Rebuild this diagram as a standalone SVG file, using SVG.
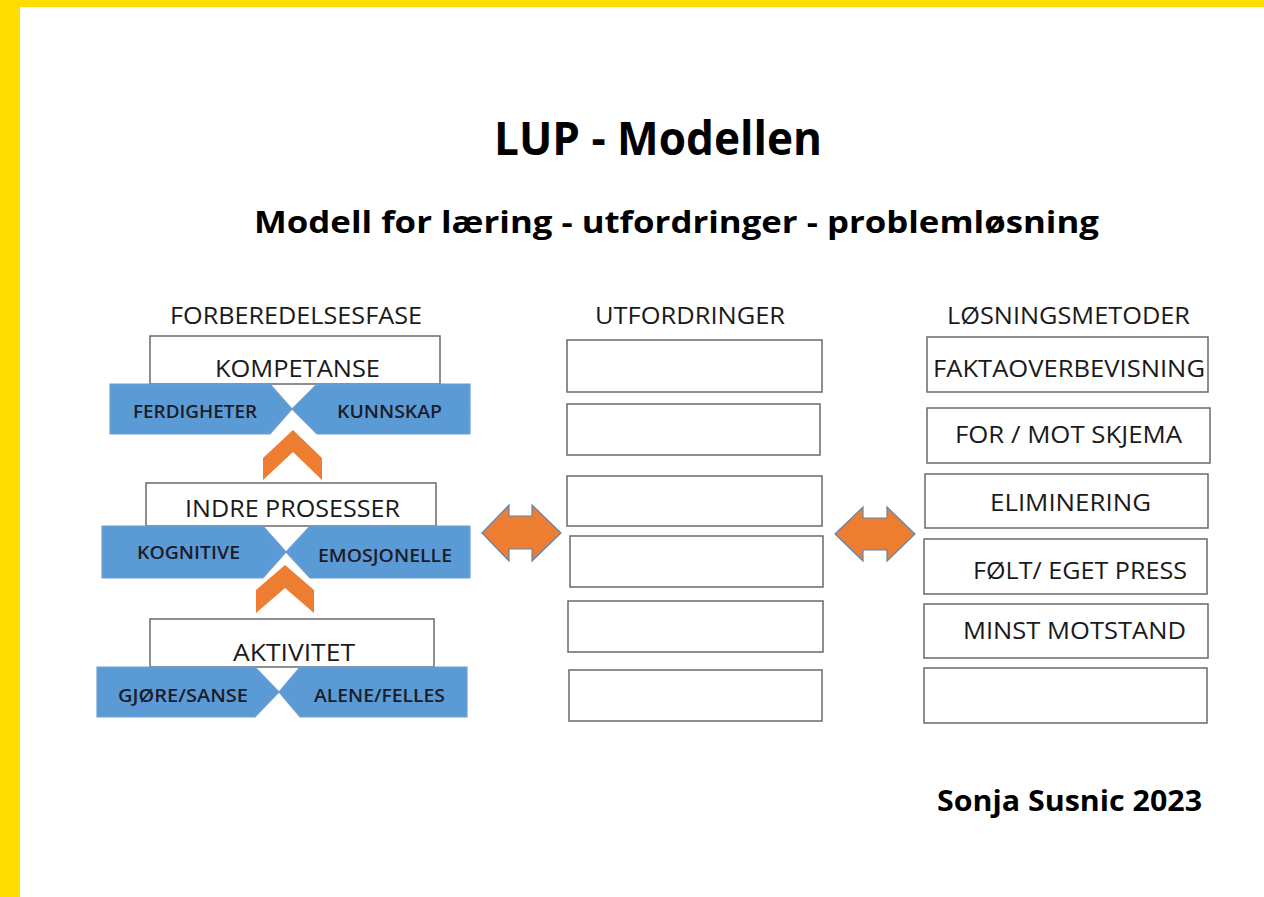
<svg xmlns="http://www.w3.org/2000/svg" width="1264" height="897" viewBox="0 0 1264 897">
  <style>
    .t { font-family: "Open Sans", "Liberation Sans", sans-serif; fill: #1a1a1a; }
    .title { font-weight: 700; font-size: 46px; fill: #000; }
    .sub { font-weight: 700; font-size: 31px; fill: #000; }
    .head { font-size: 23px; }
    .lbl { font-size: 23px; }
    .bar { font-size: 18px; font-weight: 600; fill: #1c1c2a; }
    .box { fill: #fff; stroke: #6a6a6a; stroke-width: 1.5; }
    .blue { fill: #5b9bd5; stroke: #6f9fcf; stroke-width: 1.2; }
    .orange { fill: #ed7d31; }
    .dbl { fill: #ed7d31; stroke: #5b86b8; stroke-width: 1.2; }
  </style>

  <!-- page frame -->
  <rect x="0" y="0" width="1264" height="897" fill="#fff"/>
  <rect x="0" y="0" width="1264" height="7" fill="#ffdd00"/>
  <rect x="0" y="0" width="20" height="897" fill="#ffdd00"/>

  <!-- headings -->
  <g id="headings">
    <text class="t title" x="494" y="155" textLength="328" lengthAdjust="spacingAndGlyphs">LUP - Modellen</text>
    <text class="t sub" x="254" y="233" textLength="845" lengthAdjust="spacingAndGlyphs">Modell for læring - utfordringer - problemløsning</text>
    <text class="t head" x="170" y="324" textLength="252" lengthAdjust="spacingAndGlyphs">FORBEREDELSESFASE</text>
    <text class="t head" x="595" y="324" textLength="190" lengthAdjust="spacingAndGlyphs">UTFORDRINGER</text>
    <text class="t head" x="947" y="324" textLength="243" lengthAdjust="spacingAndGlyphs">LØSNINGSMETODER</text>
  </g>

  <!-- preparation phase: three levels -->
  <g id="kompetanse">
    <rect class="box" x="150" y="336" width="290" height="48"/>
    <text class="t lbl" x="215" y="377" textLength="165" lengthAdjust="spacingAndGlyphs">KOMPETANSE</text>
    <polygon class="blue" points="110,384 270,384 292,409 270,434 110,434"/>
    <polygon class="blue" points="317,384 470,384 470,434 317,434 292,409"/>
    <text class="t bar" x="133" y="418" textLength="124" lengthAdjust="spacingAndGlyphs">FERDIGHETER</text>
    <text class="t bar" x="337" y="418" textLength="105" lengthAdjust="spacingAndGlyphs">KUNNSKAP</text>
  </g>

  <g id="indre-prosesser">
    <rect class="box" x="146" y="483" width="290" height="43"/>
    <text class="t lbl" x="185" y="517" textLength="215" lengthAdjust="spacingAndGlyphs">INDRE PROSESSER</text>
    <polygon class="blue" points="102,526 263,526 286,552 263,578 102,578"/>
    <polygon class="blue" points="310,526 470,526 470,578 310,578 286,552"/>
    <text class="t bar" x="137" y="559" textLength="103" lengthAdjust="spacingAndGlyphs">KOGNITIVE</text>
    <text class="t bar" x="318" y="562" textLength="134" lengthAdjust="spacingAndGlyphs">EMOSJONELLE</text>
  </g>

  <g id="aktivitet">
    <rect class="box" x="150" y="619" width="284" height="48"/>
    <text class="t lbl" x="233" y="661" textLength="122" lengthAdjust="spacingAndGlyphs">AKTIVITET</text>
    <polygon class="blue" points="97,667 255,667 279,692 255,717 97,717"/>
    <polygon class="blue" points="300,667 467,667 467,717 300,717 279,692"/>
    <text class="t bar" x="118" y="702" textLength="130" lengthAdjust="spacingAndGlyphs">GJØRE/SANSE</text>
    <text class="t bar" x="314" y="702" textLength="131" lengthAdjust="spacingAndGlyphs">ALENE/FELLES</text>
  </g>

  <!-- challenges column -->
  <g id="utfordringer">
    <rect class="box" x="567" y="340" width="255" height="52"/>
    <rect class="box" x="567" y="404" width="253" height="51"/>
    <rect class="box" x="567" y="476" width="255" height="50"/>
    <rect class="box" x="570" y="536" width="253" height="51"/>
    <rect class="box" x="568" y="601" width="255" height="51"/>
    <rect class="box" x="569" y="670" width="253" height="51"/>
  </g>

  <!-- solution methods column -->
  <g id="losningsmetoder">
    <rect class="box" x="927" y="337" width="281" height="55"/>
    <text class="t lbl" x="933" y="377" textLength="272" lengthAdjust="spacingAndGlyphs">FAKTAOVERBEVISNING</text>
    <rect class="box" x="927" y="408" width="283" height="55"/>
    <text class="t lbl" x="955" y="443" textLength="227" lengthAdjust="spacingAndGlyphs">FOR / MOT SKJEMA</text>
    <rect class="box" x="925" y="474" width="283" height="54"/>
    <text class="t lbl" x="990" y="511" textLength="161" lengthAdjust="spacingAndGlyphs">ELIMINERING</text>
    <rect class="box" x="924" y="539" width="283" height="55"/>
    <text class="t lbl" x="973" y="579" textLength="214" lengthAdjust="spacingAndGlyphs">FØLT/ EGET PRESS</text>
    <rect class="box" x="924" y="604" width="284" height="54"/>
    <text class="t lbl" x="963" y="639" textLength="223" lengthAdjust="spacingAndGlyphs">MINST MOTSTAND</text>
    <rect class="box" x="924" y="668" width="283" height="55"/>
  </g>

  <!-- connectors: upward chevrons and double arrows -->
  <g id="connectors">
    <polygon class="orange" points="263,458 293,430 322,458 322,480 293,452 263,480"/>
    <polygon class="orange" points="256,590 285,565 314,590 314,613 285,588 256,613"/>
    <polygon class="dbl" points="482,533 509,505 509,516 532,516 532,505 561,533 532,561 532,549 509,549 509,561"/>
    <polygon class="dbl" points="835,534 863,507 863,518 887,518 887,507 915,534 887,561 887,550 863,550 863,561"/>
  </g>

  <g id="author">
    <text class="t sub" x="937" y="811" font-size="28" textLength="265" lengthAdjust="spacingAndGlyphs" style="font-size:28px">Sonja Susnic 2023</text>
  </g>
</svg>
